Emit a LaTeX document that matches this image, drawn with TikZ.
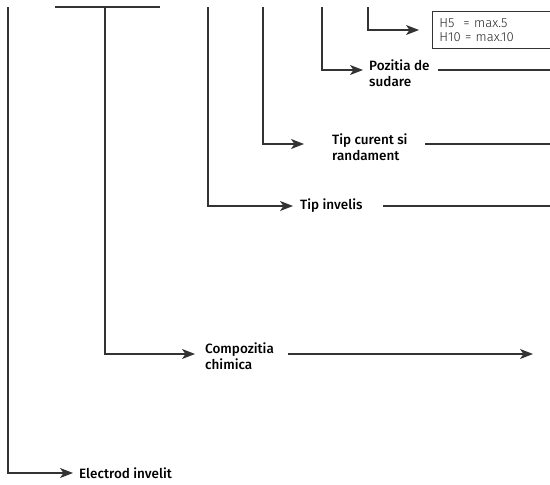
\documentclass[tikz,border=0pt]{standalone}
\usepackage{fontspec}
\setmainfont{Fira Sans}[BoldFont={Fira Sans Medium}]
\newfontfamily\lightfont{Fira Sans Light}
\usetikzlibrary{arrows.meta}
\begin{document}
\begin{tikzpicture}[x=1pt,y=-1pt,
  conn/.style={draw=black!80,line width=1.1pt},
  arr/.style={conn,-{Stealth[length=13pt,width=10pt,inset=3.5pt]}},
  lbl/.style={anchor=west,inner xsep=0pt,inner ysep=0pt,align=left,font=\fontsize{13.5}{16.5}\selectfont\bfseries},
  boxtext/.style={anchor=north west,draw=black!80,line width=0.9pt,align=left,inner xsep=7pt,inner ysep=2pt,text width=126pt,minimum height=37pt,font=\fontsize{13}{14.5}\selectfont\lightfont,text=black!85}]
\useasboundingbox (0,0) rectangle (550,485);
% top ends of the verticals
\coordinate (v1) at (8,7);
\coordinate (v2) at (105,7);
\coordinate (v3) at (208,7);
\coordinate (v4) at (263,7);
\coordinate (v5) at (322,7);
\coordinate (v6) at (368,7);
\coordinate (tl) at (55,7);
\coordinate (tr) at (160,7);
% labels
\node[lbl] (elec) at (79,473) {Electrod invelit};
\node[lbl] (comp) at (205,356) {Compozitia\\chimica};
\node[lbl] (inv) at (300,206) {Tip invelis};
\node[lbl] (cur) at (332,147) {Tip curent si\\randament};
\node[lbl] (poz) at (369,73) {Pozitia de\\sudare};
\node[boxtext] (hbox) at (432,11) {H5\hspace{9pt}= max.5\\H10 = max.10};
% arrow end points
\coordinate (a1) at (73,473);
\coordinate (a2) at (195,354);
\coordinate (a3) at (293,206);
\coordinate (a4) at (304,144);
\coordinate (a5) at (363,70);
\coordinate (a6) at (419,30);
% right-side line coordinates
\coordinate (c2s) at (288,354);
\coordinate (c2e) at (533,354);
\coordinate (c3s) at (383,206);
\coordinate (c3e) at (550,206);
\coordinate (c4s) at (425,144);
\coordinate (c4e) at (550,144);
\coordinate (c5s) at (438,70);
\coordinate (c5e) at (550,70);
% connectors
\draw[conn] (tl) -- (tr);
\draw[arr] (v1) |- (a1);
\draw[arr] (v2) |- (a2);
\draw[arr] (v3) |- (a3);
\draw[arr] (v4) |- (a4);
\draw[arr] (v5) |- (a5);
\draw[arr] (v6) |- (a6);
\draw[arr] (c2s) -- (c2e);
\draw[conn] (c3s) -- (c3e);
\draw[conn] (c4s) -- (c4e);
\draw[conn] (c5s) -- (c5e);
\end{tikzpicture}
\end{document}
